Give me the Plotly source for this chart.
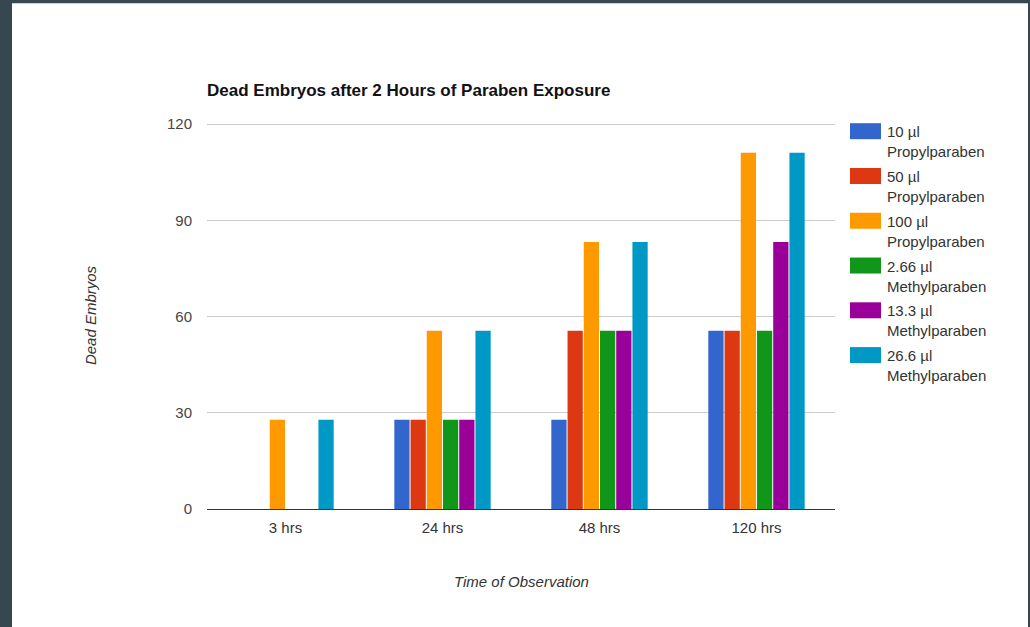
import plotly.graph_objects as go

# Observation times and dead-embryo counts per treatment
times = ["3 hrs", "24 hrs", "48 hrs", "120 hrs"]
names = [
    "10 µl<br>Propylparaben",
    "50 µl<br>Propylparaben",
    "100 µl<br>Propylparaben",
    "2.66 µl<br>Methylparaben",
    "13.3 µl<br>Methylparaben",
    "26.6 µl<br>Methylparaben",
]
propyl_10 = [0, 27.8, 27.8, 55.6]
propyl_50 = [0, 27.8, 55.6, 55.6]
propyl_100 = [27.8, 55.6, 83.3, 111.1]
methyl_266 = [0, 27.8, 55.6, 55.6]
methyl_133 = [0, 27.8, 55.6, 83.3]
methyl_266b = [27.8, 55.6, 83.3, 111.1]
series = [propyl_10, propyl_50, propyl_100, methyl_266, methyl_133, methyl_266b]
colors = ["#3366cc", "#dc3912", "#ff9900", "#109618", "#990099", "#0099c6"]
y_ticks = [0, 30, 60, 90, 120]
y_max = 121

W, H = 1030, 627
L, R, B = 207, 835, 509          # plot area edges in pixels
T = B - (B - 124) * y_max / 120  # top edge so that 120 sits at y=124

FONT = "Arial, Liberation Sans"


def px_x(x):
    return (x - L) / (R - L)


def px_y(y):
    return (B - y) / (B - T)


fig = go.Figure()
for name, vals, col in zip(names, series, colors):
    fig.add_trace(go.Bar(x=times, y=vals, name=name, marker_color=col,
                         marker_line_width=0, showlegend=False))

shapes = [
    # white card on the dark page
    dict(type="rect", xref="paper", yref="paper", layer="below",
         x0=px_x(12), x1=px_x(1028), y0=px_y(3), y1=px_y(640),
         fillcolor="white", line_width=0),
]
annotations = []

# legend: colour swatch plus two-line label
for i, (name, col) in enumerate(zip(names, colors)):
    top = 123 + i * 44.8
    shapes.append(dict(type="rect", xref="paper", yref="paper",
                       x0=px_x(850), x1=px_x(881), y0=px_y(top), y1=px_y(top + 16),
                       fillcolor=col, line_width=0))
    annotations.append(dict(xref="paper", yref="paper", x=px_x(885), y=px_y(top - 2),
                            xanchor="left", yanchor="top", align="left",
                            text=name, showarrow=False,
                            font=dict(family=FONT, size=15, color="#333")))

annotations.append(dict(xref="paper", yref="paper", x=px_x(90), y=px_y(315),
                        text="<i>Dead Embryos</i>", textangle=-90, showarrow=False,
                        xanchor="center", yanchor="middle",
                        font=dict(family=FONT, size=15, color="#333")))
annotations.append(dict(xref="paper", yref="paper", x=px_x(521), y=px_y(582),
                        text="<i>Time of Observation</i>", showarrow=False,
                        xanchor="center", yanchor="middle",
                        font=dict(family=FONT, size=15, color="#333")))

fig.update_layout(
    width=W, height=H,
    margin=dict(l=L, r=W - R, t=T, b=H - B, pad=0),
    paper_bgcolor="#37474f",
    plot_bgcolor="rgba(0,0,0,0)",
    barmode="group",
    bargap=0.38,
    bargroupgap=0.06,
    title=dict(text="<b>Dead Embryos after 2 Hours of Paraben Exposure</b>",
               x=px_x(207), xref="paper", xanchor="left",
               y=1 - 90 / H, yref="container", yanchor="middle",
               font=dict(family=FONT, size=17, color="#111")),
    shapes=shapes,
    annotations=annotations,
    showlegend=False,
    xaxis=dict(showgrid=False, showline=True, linecolor="#333", linewidth=1,
               ticks="", ticklabelstandoff=5,
               tickfont=dict(family=FONT, size=15, color="#333")),
    yaxis=dict(range=[0, y_max], tickvals=y_ticks, showgrid=True, gridcolor="#cccccc",
               gridwidth=1, zeroline=False, showline=False, ticks="",
               ticklabelstandoff=14,
               tickfont=dict(family=FONT, size=15, color="#444")),
)

fig.write_html("out.html")
